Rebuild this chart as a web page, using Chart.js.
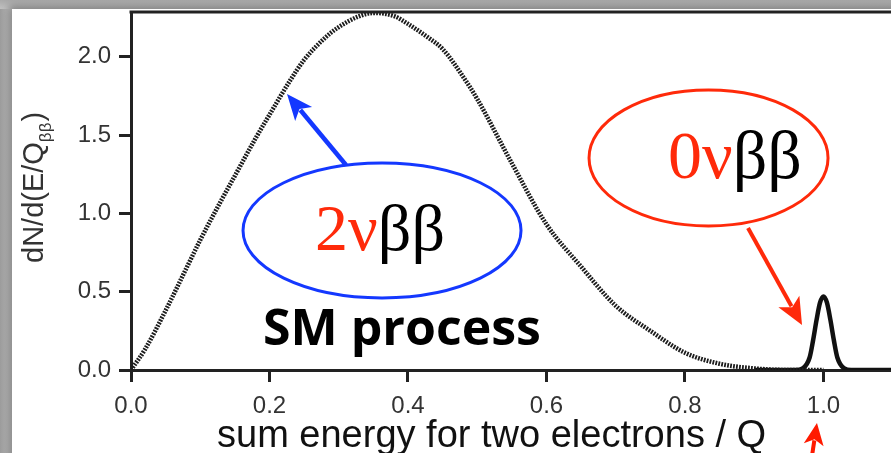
<!DOCTYPE html>
<html>
<head>
<meta charset="utf-8">
<title>2vbb / 0vbb spectrum</title>
<script src="https://cdn.jsdelivr.net/npm/chart.js@4.4.1/dist/chart.umd.min.js"></script>
<style>
  html, body { margin: 0; padding: 0; }
  body { width: 891px; height: 453px; overflow: hidden; position: relative;
         background: linear-gradient(to right, #9c9c9c 0px, #c8c8c8 12px); }
  #slide { position: absolute; left: 12px; top: 9px; width: 900px; height: 460px; background: #fff;
           box-shadow: -3px -3px 8px rgba(0,0,0,0.35); }
  #topband { position: absolute; left: 0; top: 0; width: 891px; height: 9px;
             background: linear-gradient(to bottom, #aaaaaa, #c2c2c2); }
  #chart { position: absolute; left: 0; top: 0; }
</style>
</head>
<body>
<div id="topband"></div>
<div id="slide"></div>
<canvas id="chart" width="891" height="453"></canvas>
<script>
// 2 neutrino double beta spectrum (dotted curve)
const energy2nu = [0, 0.02, 0.05, 0.08, 0.10, 0.13, 0.15, 0.18, 0.20, 0.23, 0.25, 0.28, 0.30, 0.33, 0.35,
                   0.38, 0.40, 0.43, 0.45, 0.48, 0.50, 0.55, 0.60, 0.65, 0.70, 0.75, 0.80, 0.85, 0.90, 0.95, 1.00];
const rate2nu   = [0, 0.13, 0.38, 0.65, 0.83, 1.08, 1.24, 1.48, 1.63, 1.85, 1.98, 2.12, 2.19, 2.26, 2.28,
                   2.26, 2.21, 2.12, 2.05, 1.87, 1.73, 1.32, 0.93, 0.66, 0.41, 0.25, 0.11, 0.04, 0.01, 0.0, 0.0];

// 0 neutrino peak at Q
const energy0nu = [0.90, 0.96, 0.97, 0.98, 0.985, 0.99, 0.995, 1.00, 1.005, 1.01, 1.015, 1.02, 1.03, 1.04, 1.10];
const rate0nu   = [0, 0, 0.01, 0.08, 0.19, 0.32, 0.43, 0.47, 0.43, 0.32, 0.19, 0.08, 0.01, 0, 0];

const xTickStep = 0.2;
const yTickStep = 0.5;
const xMax = 1.0975;
const yMax = 2.286;

const xTitle = 'sum energy for two electrons / Q';

const toPoints = (xs, ys) => xs.map((x, i) => ({ x: x, y: ys[i] }));

function arrow(ctx, x1, y1, x2, y2, color, width, headLen, headHalf) {
    const ang = Math.atan2(y2 - y1, x2 - x1);
    const bx = x2 - Math.cos(ang) * headLen * 0.8;
    const by = y2 - Math.sin(ang) * headLen * 0.8;
    ctx.save();
    ctx.strokeStyle = color;
    ctx.fillStyle = color;
    ctx.lineWidth = width;
    ctx.beginPath();
    ctx.moveTo(x1, y1);
    ctx.lineTo(bx, by);
    ctx.stroke();
    ctx.beginPath();
    ctx.moveTo(x2, y2);
    ctx.lineTo(x2 - Math.cos(ang) * headLen - Math.sin(ang) * headHalf,
               y2 - Math.sin(ang) * headLen + Math.cos(ang) * headHalf);
    ctx.lineTo(x2 - Math.cos(ang) * headLen * 0.75, y2 - Math.sin(ang) * headLen * 0.75);
    ctx.lineTo(x2 - Math.cos(ang) * headLen + Math.sin(ang) * headHalf,
               y2 - Math.sin(ang) * headLen - Math.cos(ang) * headHalf);
    ctx.closePath();
    ctx.fill();
    ctx.restore();
}

function label(ctx, x, y, parts, font) {
    ctx.save();
    ctx.font = font;
    ctx.textBaseline = 'alphabetic';
    ctx.textAlign = 'left';
    let cx = x;
    parts.forEach(p => {
        ctx.fillStyle = p.color;
        ctx.fillText(p.text, cx, y);
        cx += ctx.measureText(p.text).width;
    });
    ctx.restore();
}

const decorations = {
    id: 'decorations',
    afterDraw(chart) {
        const ctx = chart.ctx;
        const area = chart.chartArea;
        const sx = chart.scales.x, sy = chart.scales.y;
        const px = v => sx.getPixelForValue(v);
        const py = v => sy.getPixelForValue(v);

        // top frame line
        ctx.save();
        ctx.strokeStyle = '#222';
        ctx.lineWidth = 3;
        ctx.beginPath();
        ctx.moveTo(area.left - 1.5, area.top);
        ctx.lineTo(area.right, area.top);
        ctx.stroke();
        ctx.restore();

        // y axis title with subscript
        ctx.save();
        ctx.translate(43, 263);
        ctx.rotate(-Math.PI / 2);
        ctx.fillStyle = '#333';
        ctx.textBaseline = 'alphabetic';
        ctx.font = '29px "Liberation Sans"';
        let t = 'dN/d(E/Q';
        ctx.fillText(t, 0, 0);
        let w = ctx.measureText(t).width;
        ctx.font = '17px "Liberation Sans"';
        ctx.fillText('\u03b2\u03b2', w, 8);
        w += ctx.measureText('\u03b2\u03b2').width + 1;
        ctx.font = '29px "Liberation Sans"';
        ctx.fillText(')', w, 0);
        ctx.restore();

        // x axis title
        ctx.save();
        ctx.fillStyle = '#111';
        ctx.font = '38px "Liberation Sans"';
        ctx.textBaseline = 'alphabetic';
        ctx.fillText(xTitle, 217, 447);
        ctx.restore();

        // ellipses
        ctx.save();
        ctx.lineWidth = 3;
        ctx.strokeStyle = '#1438ff';
        ctx.beginPath();
        ctx.ellipse(px(0.3625), py(0.891), 139, 67.5, 0, 0, Math.PI * 2);
        ctx.stroke();
        ctx.strokeStyle = '#ff2a0a';
        ctx.beginPath();
        ctx.ellipse(px(0.834), py(1.354), 119.5, 68, 0, 0, Math.PI * 2);
        ctx.stroke();
        ctx.restore();

        // arrows
        arrow(ctx, px(0.3105), py(1.309), px(0.2253), py(1.762), '#1438ff', 4.5, 26, 11);
        arrow(ctx, px(0.891), py(0.907), px(0.969), py(0.287), '#ff2a0a', 4, 27, 12);
        arrow(ctx, px(0.982), py(-0.59), px(0.9906), py(-0.338), '#ff1a00', 4, 22, 10);

        // labels
        label(ctx, px(0.2657), py(0.766), [{ text: '2\u03bd', color: '#ff2a0a' }, { text: '\u03b2\u03b2', color: '#000' }],
              '66px "Liberation Serif"');
        label(ctx, px(0.7755), py(1.226), [{ text: '0\u03bd', color: '#ff2a0a' }, { text: '\u03b2\u03b2', color: '#000' }],
              '68px "Liberation Serif"');
        label(ctx, px(0.1906), py(0.16), [{ text: 'SM process', color: '#000' }], 'bold 50px "Open Sans"');
    }
};

const tickFont = { family: 'Liberation Sans', size: 24 };

new Chart(document.getElementById('chart'), {
    type: 'line',
    data: {
        datasets: [
            {
                label: '2vbb',
                data: toPoints(energy2nu, rate2nu),
                borderColor: '#1c1c1c',
                borderWidth: 4.5,
                borderDash: [1.8, 1.2],
                borderCapStyle: 'butt',
                pointRadius: 0,
                cubicInterpolationMode: 'monotone',
                fill: false
            },
            {
                label: '0vbb',
                data: toPoints(energy0nu, rate0nu),
                borderColor: '#111',
                borderWidth: 4.5,
                pointRadius: 0,
                cubicInterpolationMode: 'monotone',
                fill: false
            }
        ]
    },
    options: {
        responsive: false,
        animation: false,
        devicePixelRatio: 1,
        layout: { padding: { top: 12, left: 0, right: 0, bottom: 0 } },
        plugins: { legend: { display: false }, tooltip: { enabled: false } },
        scales: {
            x: {
                type: 'linear',
                min: 0,
                max: xMax,
                ticks: {
                    stepSize: xTickStep,
                    includeBounds: false,
                    font: tickFont,
                    color: '#333',
                    padding: 10,
                    maxRotation: 0,
                    callback: v => v.toFixed(1)
                },
                grid: { drawOnChartArea: false, drawTicks: true, tickLength: 12, tickWidth: 3, tickColor: '#222' },
                border: { display: true, width: 3, color: '#222' },
                afterFit: s => { s.height = 83; s.paddingLeft = 0; s.paddingRight = 0; }
            },
            y: {
                type: 'linear',
                min: 0,
                max: yMax,
                ticks: {
                    stepSize: yTickStep,
                    includeBounds: false,
                    font: tickFont,
                    color: '#333',
                    padding: 8,
                    callback: v => v.toFixed(1)
                },
                grid: { drawOnChartArea: false, drawTicks: true, tickLength: 12, tickWidth: 3, tickColor: '#222' },
                border: { display: true, width: 3, color: '#222' },
                afterFit: s => { s.width = 131; s.paddingTop = 0; s.paddingBottom = 0; }
            }
        }
    },
    plugins: [decorations]
});
</script>
</body>
</html>
